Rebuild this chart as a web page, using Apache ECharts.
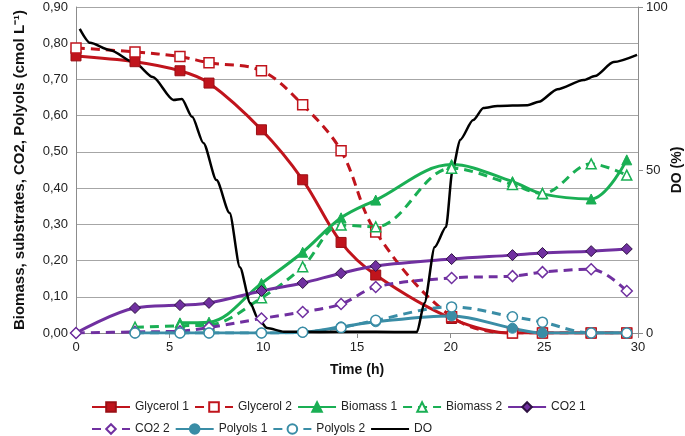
<!DOCTYPE html>
<html>
<head>
<meta charset="utf-8">
<script src="https://cdn.jsdelivr.net/npm/echarts@6/dist/echarts.min.js"></script>
<style>
  html, body { margin: 0; padding: 0; background: #fff; }
  #chart { width: 685px; height: 436px; }
</style>
</head>
<body>
<div id="chart"></div>
<script>
// sampling times (h)
var times = [0, 3.15, 5.55, 7.1, 9.9, 12.1, 14.15, 16, 20.05, 23.3, 24.9, 27.5, 29.4];

var glycerol1 = [0.765, 0.749, 0.724, 0.69, 0.561, 0.423, 0.25, 0.16, 0.04, 0, 0, 0, 0];
var glycerol2 = [0.787, 0.776, 0.763, 0.746, 0.724, 0.63, 0.503, 0.279, 0.045, 0, 0, 0, 0];
var biomass1 = [null, null, 0.028, 0.03, 0.137, 0.223, 0.318, 0.367, 0.465, 0.418, 0.384, 0.37, 0.478];
var biomass2 = [null, 0.016, 0.02, 0.022, 0.097, 0.183, 0.298, 0.293, 0.455, 0.41, 0.385, 0.467, 0.436];
var co2_1 = [0, 0.069, 0.077, 0.083, 0.116, 0.138, 0.165, 0.185, 0.204, 0.215, 0.221, 0.226, 0.232];
var co2_2 = [0, 0.003, 0.005, 0.015, 0.04, 0.058, 0.08, 0.127, 0.152, 0.157, 0.168, 0.176, 0.116];
var polyols1 = [null, 0, 0, 0, 0, 0.002, 0.017, 0.031, 0.047, 0.013, 0, 0, 0];
var polyols2 = [null, 0, 0, 0, 0, 0.002, 0.015, 0.035, 0.072, 0.045, 0.03, 0, 0];

// dissolved oxygen trace (%)
var doTime = [0.2, 0.75, 1.8, 3.15, 4.1, 5.2, 5.65, 6.2, 6.8, 7.5, 8.2, 8.75, 9.3, 9.7, 10.2, 11.1, 13, 15, 17, 18.2,
    18.6, 19.15, 19.75, 20.1, 20.5, 21.2, 21.75, 22.5, 24.1, 24.7, 25.7, 27.1, 27.7, 28.7, 29.95];
var doVal = [93.3, 89, 86.8, 82.8, 78.5, 71.5, 71.8, 66.3, 58.3, 46.9, 36.8, 20.2, 9.2, 4.6, 1.5, 0.4, 0.3, 0.4, 0.3, 0.3,
    9.2, 26.4, 32.5, 50, 59.2, 65.3, 69, 69.6, 69.9, 70.9, 74.8, 77.6, 78.8, 83.1, 85.3];

var legendRow1 = ['Glycerol 1', 'Glycerol 2', 'Biomass 1', 'Biomass 2', 'CO2 1'];
var legendRow2 = ['CO2 2', 'Polyols 1', 'Polyols 2', 'DO'];

var RED = '#c0141c', GREEN = '#1aaf54', PURPLE = '#7030a0', TEAL = '#3a8da6';
var FONT = 'Liberation Sans, Arial, sans-serif';

function pairs(xs, ys) {
    var out = [];
    for (var i = 0; i < xs.length; i++) {
        if (ys[i] !== null) out.push([xs[i], ys[i]]);
    }
    return out;
}

function makeSeries(name, values, color, symbol, filled, dashed, border) {
    return {
        name: name,
        type: 'line',
        data: pairs(times, values),
        smooth: 0.35,
        symbol: symbol,
        symbolSize: symbol === 'diamond' ? 11 : 10,
        showAllSymbol: true,
        lineStyle: { color: color, width: 3, type: dashed ? [9, 6] : 'solid' },
        itemStyle: {
            color: filled ? color : '#fff',
            borderColor: filled ? (border || color) : color,
            borderWidth: filled ? 1 : 1.5
        },
        emphasis: { disabled: true }
    };
}

// legend rows laid out as fixed-width columns
function legendRow(names, top) {
    return {
        data: names.map(function (n) {
            return n === 'DO' ? { name: n, itemStyle: { opacity: 0 } } : n;
        }),
        left: 86, top: top,
        itemWidth: 38, itemHeight: 12, itemGap: 5,
        formatter: '{a|{name}}',
        textStyle: {
            fontSize: 12, color: '#222', fontFamily: FONT,
            rich: { a: { width: 57, fontSize: 12, fontFamily: FONT, color: '#222' } }
        }
    };
}

var myChart = echarts.init(document.getElementById('chart'));
var option = {
    animation: false,
    textStyle: { fontFamily: FONT },
    grid: { left: 76, right: 47, top: 7, bottom: 103, outerBoundsMode: 'none', containLabel: false },
    legend: [legendRow(legendRow1, 396), legendRow(legendRow2, 418)],
    xAxis: {
        type: 'value',
        min: 0, max: 30, interval: 5,
        name: 'Time (h)',
        nameLocation: 'middle',
        nameGap: 30,
        nameTextStyle: { fontSize: 14, fontWeight: 'bold', color: '#111' },
        axisLine: { lineStyle: { color: '#8c8c8c' } },
        axisTick: { show: true, length: 5, lineStyle: { color: '#8c8c8c' } },
        axisLabel: { fontSize: 13, color: '#222', margin: 8 },
        splitLine: { show: false }
    },
    yAxis: [{
        type: 'value',
        min: 0, max: 0.9, interval: 0.1,
        name: 'Biomass, substrates, CO2, Polyols (cmol L⁻¹)',
        nameLocation: 'middle',
        nameRotate: 90,
        nameGap: 49,
        nameTextStyle: { fontSize: 15, fontWeight: 'bold', color: '#111' },
        axisLine: { show: true, lineStyle: { color: '#8c8c8c' } },
        axisTick: { show: false },
        axisLabel: {
            fontSize: 13, color: '#222', margin: 8,
            formatter: function (v) { return v.toFixed(2).replace('.', ','); }
        },
        splitLine: { show: true, lineStyle: { color: '#a6a6a6', width: 1 } }
    }, {
        type: 'value',
        min: 0, max: 100, interval: 50,
        position: 'right',
        name: 'DO (%)',
        nameLocation: 'middle',
        nameRotate: 90,
        nameGap: 32,
        nameMoveOverlap: false,
        nameTextStyle: { fontSize: 14, fontWeight: 'bold', color: '#111' },
        axisLine: { show: true, lineStyle: { color: '#8c8c8c' } },
        axisTick: { show: true, length: 5, lineStyle: { color: '#8c8c8c' } },
        axisLabel: { fontSize: 13, color: '#222', margin: 8 },
        splitLine: { show: false }
    }],
    series: [
        makeSeries('Glycerol 1', glycerol1, RED, 'rect', true, false, '#9a0f15'),
        makeSeries('Glycerol 2', glycerol2, RED, 'rect', false, true),
        makeSeries('Biomass 1', biomass1, GREEN, 'triangle', true, false),
        makeSeries('Biomass 2', biomass2, GREEN, 'triangle', false, true),
        makeSeries('CO2 1', co2_1, PURPLE, 'diamond', true, false, '#2e1242'),
        makeSeries('CO2 2', co2_2, PURPLE, 'diamond', false, true),
        makeSeries('Polyols 1', polyols1, TEAL, 'circle', true, false),
        makeSeries('Polyols 2', polyols2, TEAL, 'circle', false, true),
        {
            name: 'DO',
            type: 'line',
            yAxisIndex: 1,
            data: pairs(doTime, doVal),
            smooth: 0.25,
            smoothMonotone: 'x',
            symbol: 'none',
            lineStyle: { color: '#000', width: 2.5 },
            itemStyle: { color: '#000' },
            emphasis: { disabled: true }
        }
    ]
};
myChart.setOption(option);
</script>
</body>
</html>
